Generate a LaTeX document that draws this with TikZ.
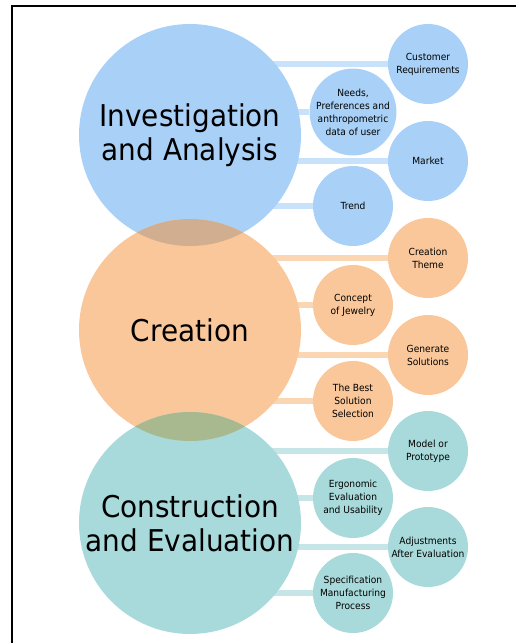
\documentclass[tikz,border=0pt]{standalone}
\usepackage{fontspec}
\setmainfont{DejaVu Sans}[FakeStretch=0.93]
\usepackage{tikz}
\usetikzlibrary{backgrounds,calc,positioning}
\definecolor{ianBlue}{HTML}{A9D1F7}
\definecolor{ianBar}{HTML}{C7E2FA}
\definecolor{creOrange}{HTML}{F9C79A}
\definecolor{creBar}{HTML}{FBD6B2}
\definecolor{ceTeal}{HTML}{A9DADB}
\definecolor{ceBar}{HTML}{C5E5E6}
\definecolor{mixBO}{HTML}{D0AE8F}
\definecolor{mixOT}{HTML}{A9B98F}
\tikzset{%
	stage/.style    = {circle, inner sep=0pt, minimum size=222pt, align=center, font=\fontsize{30}{34}\selectfont}, % big phase
	item/.style     = {circle, inner sep=0pt, minimum size=80pt, align=center, font=\fontsize{9.8}{13}\selectfont}, % small topic
	bar/.style      = {line width=6pt}, % link
}

\begin{document}
\begin{tikzpicture}[x=1pt, y=-1pt]
		\useasboundingbox (0,0) rectangle (516,643);
		% phases
		\node[stage, fill=ianBlue] (ia) at (190,135) {Investigation\\and Analysis};
		\node[stage, fill=creOrange] (cre) at (190,330) {Creation};
		\node[stage, fill=ceTeal] (ce) at (190,523) {Construction\\and Evaluation};
		\begin{scope}
			\clip (ia.center) circle[radius=111pt];
			\fill[mixBO] (cre.center) circle[radius=111pt];
		\end{scope}
		\begin{scope}
			\clip (cre.center) circle[radius=111pt];
			\fill[mixOT] (ce.center) circle[radius=111pt];
		\end{scope}
		% topics
		\node[item, fill=ianBlue] (cust) at (428,64) {Customer\\Requirements};
		\node[item, fill=ianBlue] (needs) at (353,112) {Needs,\\Preferences and\\anthropometric\\data of user};
		\node[item, fill=ianBlue] (market) at (428,161) {Market};
		\node[item, fill=ianBlue] (trend) at (353,206) {Trend};
		\node[item, fill=creOrange] (theme) at (428,258) {Creation\\Theme};
		\node[item, fill=creOrange] (concept) at (353,305) {Concept\\of Jewelry};
		\node[item, fill=creOrange] (generate) at (428,355) {Generate\\Solutions};
		\node[item, fill=creOrange] (best) at (353,401) {The Best\\Solution\\Selection};
		\node[item, fill=ceTeal] (model) at (428,451) {Model or\\Prototype};
		\node[item, fill=ceTeal] (ergo) at (353,498) {Ergonomic\\Evaluation\\and Usability};
		\node[item, fill=ceTeal] (adjust) at (428,547) {Adjustments\\After Evaluation};
		\node[item, fill=ceTeal] (spec) at (353,593) {Specification\\Manufacturing\\Process};
		% links
		\begin{scope}[on background layer]
			\draw[bar, ianBar] (cust) -- (cust -| ia);
			\draw[bar, ianBar] (needs) -- (needs -| ia);
			\draw[bar, ianBar] (market) -- (market -| ia);
			\draw[bar, ianBar] (trend) -- (trend -| ia);
			\draw[bar, creBar] (theme) -- (theme -| cre);
			\draw[bar, creBar] (concept) -- (concept -| cre);
			\draw[bar, creBar] (generate) -- (generate -| cre);
			\draw[bar, creBar] (best) -- (best -| cre);
			\draw[bar, ceBar] (model) -- (model -| ce);
			\draw[bar, ceBar] (ergo) -- (ergo -| ce);
			\draw[bar, ceBar] (adjust) -- (adjust -| ce);
			\draw[bar, ceBar] (spec) -- (spec -| ce);
		\end{scope}
		\draw[line width=2pt] (12,643) -- (12,6) -- (516,6);
		\end{tikzpicture}
\end{document}
